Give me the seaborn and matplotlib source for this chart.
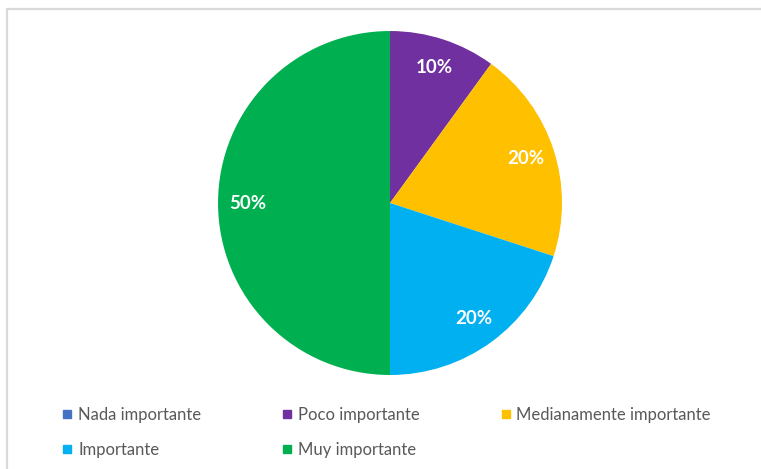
import matplotlib
matplotlib.use("Agg")
import matplotlib.pyplot as plt
from matplotlib.lines import Line2D
from matplotlib.patches import Rectangle
import seaborn as sns

# Survey answers and their share of respondents (%)
categories = ["Nada importante", "Poco importante", "Medianamente importante",
              "Importante", "Muy importante"]
shares = [0, 10, 20, 20, 50]
colors = ["#4472C4", "#7030A0", "#FFC000", "#00B0F0", "#00B050"]

sns.set_theme(style="white")
sns.set_palette(colors)
plt.rcParams["font.family"] = ["Lato", "DejaVu Sans"]

fig = plt.figure(figsize=(7.61, 4.69), dpi=100)
fig.patch.set_facecolor("white")

# light chart-area frame
fig.add_artist(Rectangle((7 / 761, -0.2), 1.2, 1.2 - 9 / 469,
                         transform=fig.transFigure, fill=False,
                         edgecolor="#d9d9d9", linewidth=1.6))

ax = fig.add_axes([0.2865, 0.2004, 0.452, 0.7335])


def pct_label(p):
    return "" if p < 0.5 else f"{p:.0f}%"


wedges, _, autotexts = ax.pie(
    shares, colors=sns.color_palette(colors), startangle=90, counterclock=False,
    autopct=pct_label, pctdistance=0.83,
    wedgeprops=dict(linewidth=0),
    textprops=dict(color="white", fontsize=13.5, fontweight="bold"),
)
ax.set_xlim(-1, 1)
ax.set_ylim(-1, 1)
ax.set_aspect("equal")

# legend laid out row by row (matplotlib fills columns first)
handles = [Line2D([], [], marker="s", linestyle="", markersize=6,
                  markerfacecolor=c, markeredgecolor=c) for c in colors]
order = [0, 3, 1, 4, 2]
leg = fig.legend([handles[i] for i in order], [categories[i] for i in order],
                 ncol=3, loc="upper left", bbox_to_anchor=(0.072, 0.146),
                 frameon=False, fontsize=12, handlelength=0.7, handletextpad=0.3,
                 columnspacing=4.8, labelspacing=1.1, borderaxespad=0)
for t in leg.get_texts():
    t.set_color("#595959")

fig.savefig("out.png", dpi=100, facecolor="white")
